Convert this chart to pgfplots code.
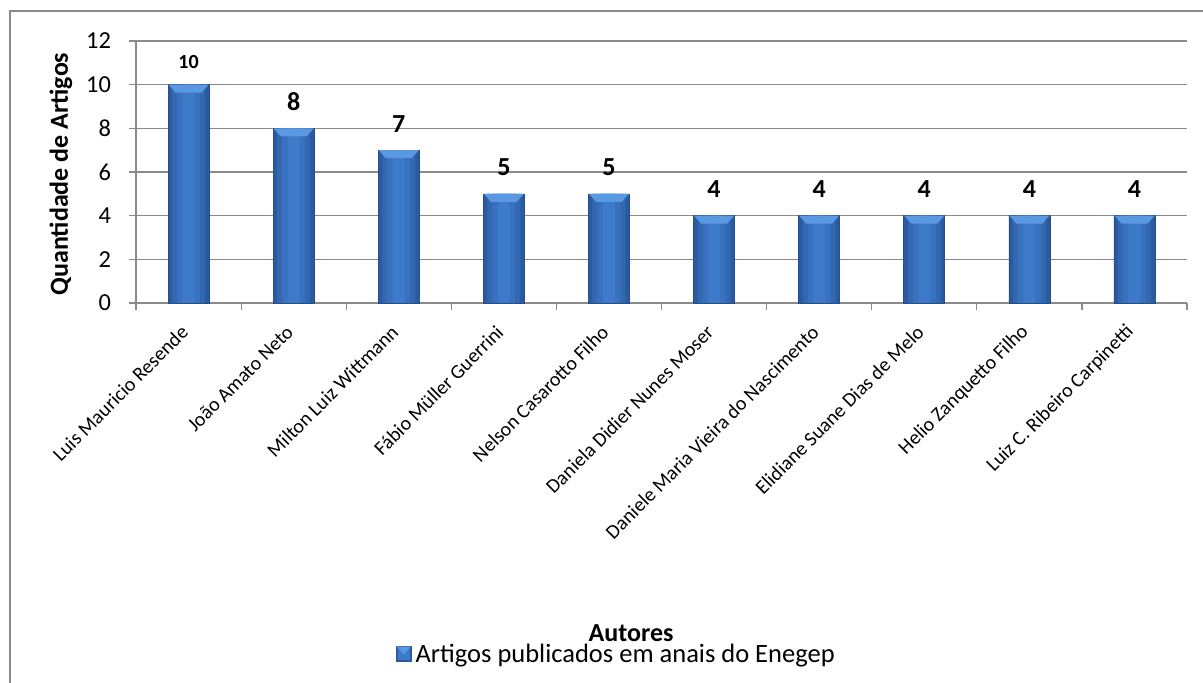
\documentclass[border=0pt]{standalone}
\usepackage{pgfplots}
\pgfplotsset{compat=1.18}
\usepackage{fontspec}
\setmainfont{Carlito}
\definecolor{barMid}{HTML}{3D7ACA}
\definecolor{barMid2}{HTML}{3872BF}
\definecolor{barMid3}{HTML}{3267B1}
\definecolor{barEdge}{HTML}{2B5A9E}
\definecolor{barLine}{HTML}{264F8A}
\definecolor{barTop}{HTML}{5B98E2}
\definecolor{gridc}{HTML}{8A8A8A}
\pgfdeclareplotmark{bevel}{%
  \pgfpathmoveto{\pgfqpoint{-10pt}{0pt}}%
  \pgfpathlineto{\pgfqpoint{10pt}{0pt}}%
  \pgfpathlineto{\pgfqpoint{6.5pt}{-4pt}}%
  \pgfpathlineto{\pgfqpoint{-6.5pt}{-4pt}}%
  \pgfpathclose
  \pgfusepath{fill}}
\pgfplotstableread{
x y
0 10
1 8
2 7
3 5
4 5
5 4
6 4
7 4
8 4
9 4
}\bardata
\begin{document}
\begin{tikzpicture}
\useasboundingbox (0pt,0pt) rectangle (601.5pt,341.5pt);
\draw[gridc, line width=0.75pt] (5pt,0pt) -- (5pt,336pt) -- (601.5pt,336pt);
\begin{axis}[
  at={(68pt,190pt)}, anchor=south west,
  scale only axis, width=525.5pt, height=131pt,
  xmin=-0.5, xmax=9.5, ymin=0, ymax=12,
  ytick={0,2,4,6,8,10,12},
  xtick={-0.5,0.5,1.5,2.5,3.5,4.5,5.5,6.5,7.5,8.5,9.5},
  x tick label as interval,
  xticklabels={Luis Mauricio Resende, João Amato Neto, Milton Luiz Wittmann, Fábio Müller Guerrini, Nelson Casarotto Filho, Daniela Didier Nunes Moser, Daniele Maria Vieira do Nascimento, Elidiane Suane Dias de Melo, Helio Zanquetto Filho, Luiz C. Ribeiro Carpinetti},
  axis lines*=left,
  axis line style={gridc, line width=0.6pt},
  tick style={gridc, line width=0.6pt},
  tick align=outside,
  major tick length=3.5pt,
  ymajorgrids, grid style={gridc, line width=0.6pt},
  /pgf/number format/assume math mode=true,
  yticklabel style={font=\fontsize{12.2}{14}\selectfont, xshift=-5.5pt},
  xticklabel style={font=\fontsize{10}{12}\selectfont, xshift=0.5pt, yshift=-7pt, rotate=45, anchor=east},
  xlabel={Autores},
  xlabel style={at={(rel axis cs:0.471,-1.261)}, anchor=center, font=\bfseries\fontsize{13}{15}\selectfont},
  ylabel={Quantidade de Artigos},
  ylabel style={at={(rel axis cs:-0.0714,0.492)}, anchor=center, font=\bfseries\fontsize{13}{15}\selectfont},
  legend style={at={(rel axis cs:0.458,-1.343)}, anchor=center, draw=none, fill=none, font=\fontsize{13.25}{15}\selectfont},
  legend image code/.code={\fill[barEdge] (0pt,-3pt) rectangle (7.5pt,4.5pt); \fill[barMid] (1pt,-2pt) rectangle (6.5pt,3.5pt); \fill[barTop] (0.5pt,4pt) -- (7pt,4pt) -- (3.75pt,0.5pt) -- cycle;},
  clip=false,
]
\addplot[ybar, bar width=20.5pt, bar shift=0pt, draw=barLine, line width=0.3pt, fill=barEdge]
  table[x=x, y=y] {\bardata};
\addlegendentry{Artigos publicados em anais do Enegep}
\addplot[ybar, bar width=16.5pt, bar shift=0pt, draw=none, fill=barMid3, forget plot]
  table[x=x, y=y] {\bardata};
\addplot[ybar, bar width=11.5pt, bar shift=0pt, draw=none, fill=barMid2, forget plot]
  table[x=x, y=y] {\bardata};
\addplot[ybar, bar width=6pt, bar shift=0pt, draw=none, fill=barMid, forget plot]
  table[x=x, y=y] {\bardata};
\addplot[only marks, mark=bevel, mark options={fill=barTop, draw=none}, forget plot]
  table[x=x, y=y] {\bardata};
\addplot[draw=none, forget plot, nodes near coords, point meta=explicit symbolic,
  every node near coord/.append style={font=\bfseries\fontsize{13}{15}\selectfont, anchor=center, yshift=13.25pt, text=black}]
  coordinates {(1,8)[8] (2,7)[7] (3,5)[5] (4,5)[5] (5,4)[4] (6,4)[4] (7,4)[4] (8,4)[4] (9,4)[4]};
\addplot[draw=none, forget plot, nodes near coords, point meta=explicit symbolic,
  every node near coord/.append style={font=\bfseries\fontsize{10}{12}\selectfont, anchor=center, yshift=11.5pt, text=black}]
  coordinates {(0,10)[10]};
\end{axis}
\end{tikzpicture}
\end{document}
